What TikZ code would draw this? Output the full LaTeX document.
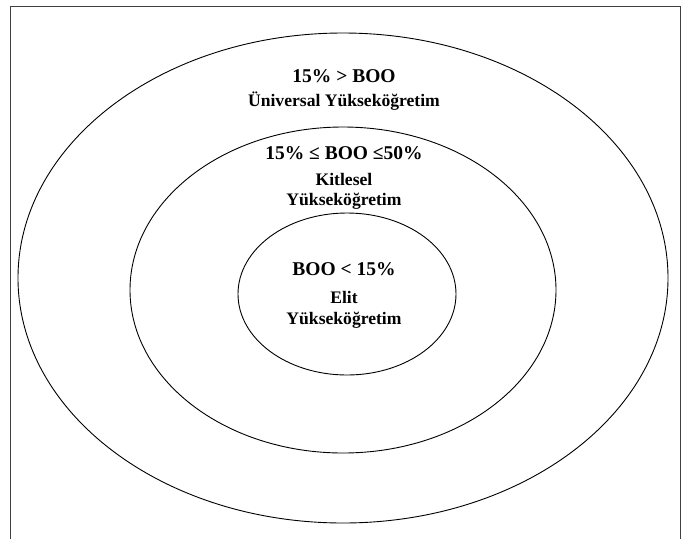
\documentclass[tikz,border=0pt]{standalone}
\usepackage{fontspec}
\setmainfont{Liberation Serif}
\usepackage{tikz}

\begin{document}
\begin{tikzpicture}[x=1pt,y=-1pt,
  katman/.style={line width=.9pt},
  baslik/.style={anchor=base,inner sep=0pt,font=\fontsize{19.5}{22}\selectfont\bfseries},
  aciklama/.style={anchor=base,inner sep=0pt,font=\fontsize{17.6}{20}\selectfont\bfseries}]
\useasboundingbox (0,0) rectangle (686,539);

% cerceve (alt kenar yok)
\draw[black!75, line width=1pt] (10,539) -- (10,6) -- (680,6) -- (680,539);

% halkalar
\draw[katman] (343,278) ellipse (325 and 245);
\draw[katman] (343,290) ellipse (213 and 163);
\draw[katman] (347,294) ellipse (109 and 81);

% dis halka
\node[baslik] (universal) at (344,82) {15\% > BOO};
\node[aciklama] (universalad) at (344,106) {Üniversal Yükseköğretim};

% orta halka
\node[baslik] (kitlesel) at (344,159) {15\% ≤ BOO ≤50\%};
\node[aciklama] (kitleselad1) at (344,185) {Kitlesel};
\node[aciklama] (kitleselad2) at (344,205) {Yükseköğretim};

% ic halka
\node[baslik] (elit) at (344,275) {BOO < 15\%};
\node[aciklama] (elitad1) at (344,303) {Elit};
\node[aciklama] (elitad2) at (344,324) {Yükseköğretim};
\end{tikzpicture}
\end{document}
